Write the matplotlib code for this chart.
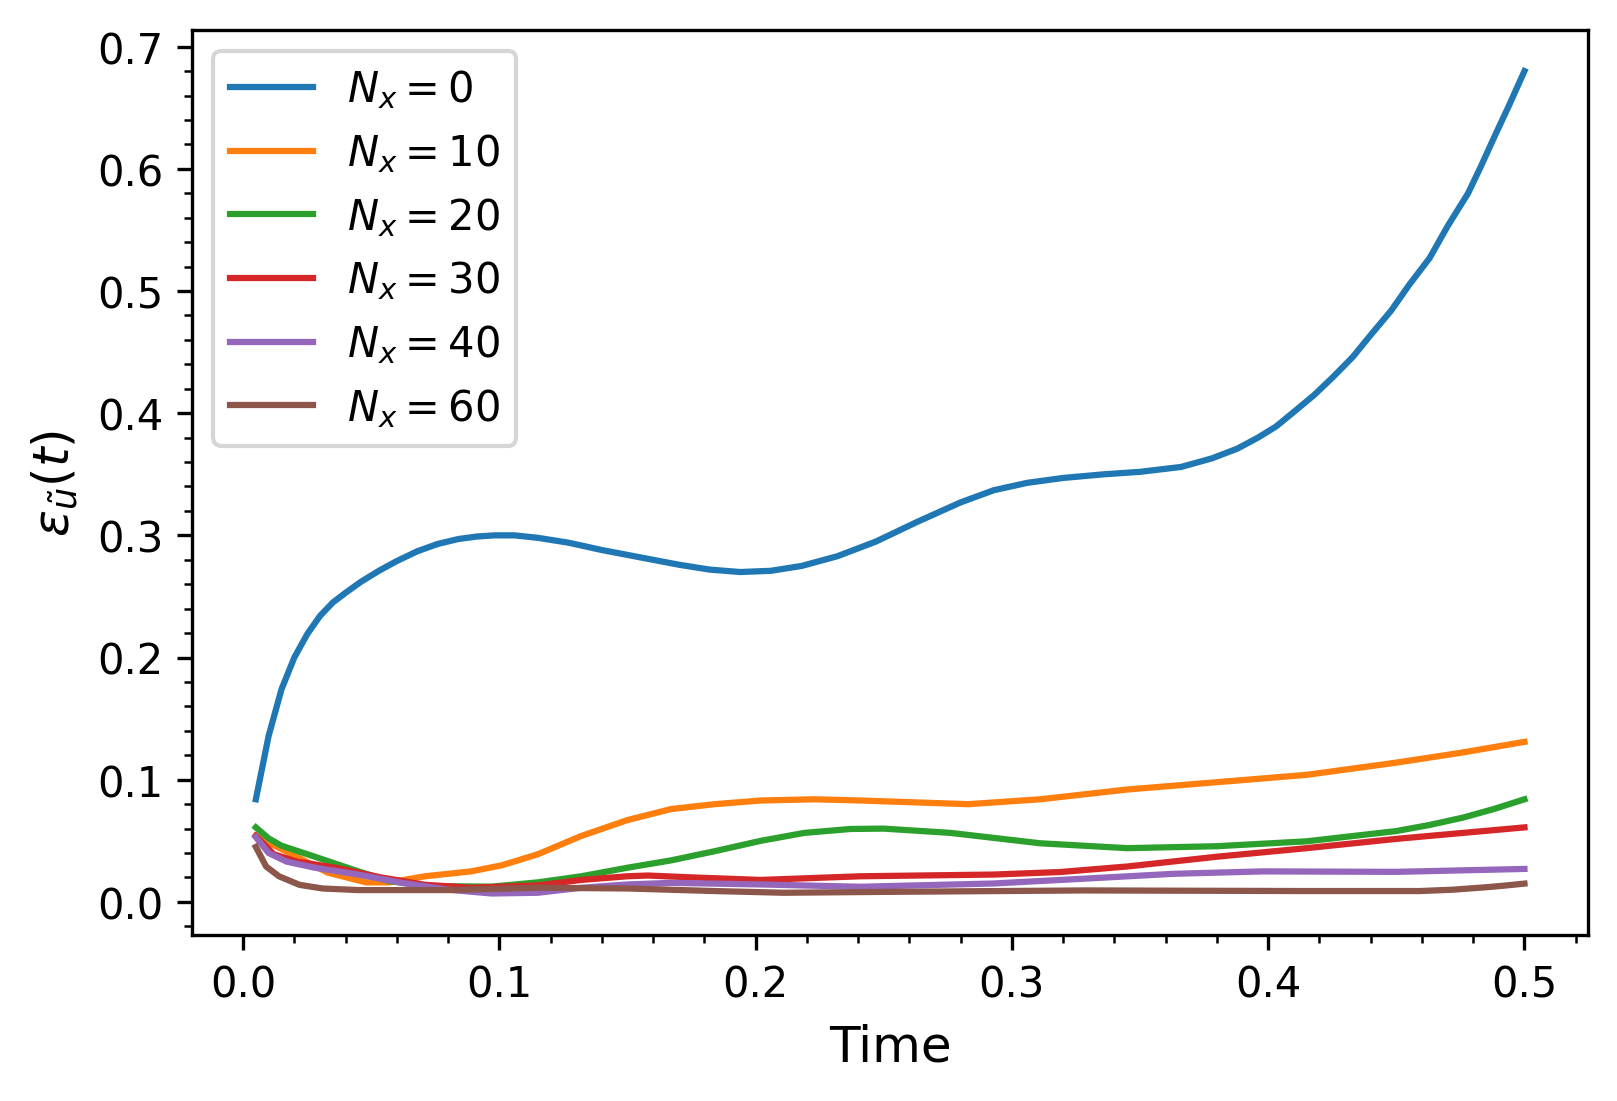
import numpy as np
import matplotlib
matplotlib.use("Agg")
import matplotlib.pyplot as plt

# values
t_nx0 = [0.005, 0.010, 0.015, 0.020, 0.025, 0.030, 0.035, 0.040, 0.046, 0.053,
         0.060, 0.068, 0.076, 0.084, 0.091, 0.098, 0.106, 0.115, 0.127, 0.140,
         0.155, 0.170, 0.182, 0.194, 0.206, 0.218, 0.232, 0.247, 0.263, 0.280,
         0.293, 0.306, 0.320, 0.336, 0.350, 0.366, 0.378, 0.388, 0.396, 0.403,
         0.410, 0.418, 0.425, 0.433, 0.440, 0.448, 0.455, 0.463, 0.470, 0.478,
         0.483, 0.488, 0.494, 0.500]
e_nx0 = [0.084, 0.136, 0.174, 0.200, 0.219, 0.234, 0.245, 0.253, 0.262, 0.271,
         0.279, 0.287, 0.293, 0.297, 0.299, 0.300, 0.300, 0.298, 0.294, 0.288,
         0.282, 0.276, 0.272, 0.270, 0.271, 0.275, 0.283, 0.295, 0.311, 0.327,
         0.337, 0.343, 0.347, 0.350, 0.352, 0.356, 0.363, 0.371, 0.380, 0.389,
         0.401, 0.415, 0.429, 0.446, 0.464, 0.484, 0.505, 0.527, 0.553, 0.580,
         0.602, 0.625, 0.652, 0.680]

t_nx10 = [0.005, 0.019, 0.033, 0.048, 0.057, 0.071, 0.089, 0.101, 0.115, 0.132,
          0.150, 0.167, 0.184, 0.202, 0.223, 0.241, 0.283, 0.311, 0.345, 0.380,
          0.415, 0.450, 0.475, 0.500]
e_nx10 = [0.054, 0.039, 0.024, 0.016, 0.016, 0.021, 0.025, 0.030, 0.039, 0.054,
          0.067, 0.076, 0.080, 0.083, 0.084, 0.083, 0.080, 0.084, 0.092, 0.098,
          0.104, 0.114, 0.122, 0.131]

t_nx20 = [0.005, 0.010, 0.015, 0.028, 0.045, 0.057, 0.073, 0.097, 0.115, 0.132,
          0.150, 0.167, 0.184, 0.202, 0.219, 0.237, 0.250, 0.276, 0.311, 0.345,
          0.380, 0.415, 0.450, 0.463, 0.476, 0.488, 0.500]
e_nx20 = [0.061, 0.052, 0.046, 0.037, 0.025, 0.017, 0.013, 0.0125, 0.016, 0.021,
          0.028, 0.034, 0.0415, 0.050, 0.0565, 0.0597, 0.060, 0.0565, 0.048, 0.044,
          0.0456, 0.0496, 0.058, 0.063, 0.069, 0.076, 0.084]

t_nx30 = [0.005, 0.012, 0.021, 0.036, 0.054, 0.071, 0.089, 0.115, 0.132, 0.150,
          0.158, 0.176, 0.202, 0.228, 0.241, 0.293, 0.319, 0.345, 0.380, 0.415,
          0.450, 0.500]
e_nx30 = [0.054, 0.039, 0.033, 0.028, 0.020, 0.014, 0.0116, 0.0135, 0.018, 0.021,
          0.0216, 0.020, 0.018, 0.020, 0.021, 0.0224, 0.0245, 0.029, 0.037, 0.044,
          0.0516, 0.061]

t_nx40 = [0.005, 0.010, 0.017, 0.028, 0.045, 0.062, 0.080, 0.097, 0.115, 0.132,
          0.150, 0.167, 0.202, 0.241, 0.293, 0.328, 0.363, 0.398, 0.450, 0.500]
e_nx40 = [0.053, 0.040, 0.033, 0.028, 0.0224, 0.0156, 0.010, 0.0069, 0.0075, 0.0116,
          0.0143, 0.0156, 0.0143, 0.0124, 0.0151, 0.019, 0.023, 0.025, 0.0246, 0.027]

t_nx60 = [0.005, 0.009, 0.014, 0.022, 0.031, 0.045, 0.080, 0.115, 0.150, 0.184,
          0.211, 0.249, 0.328, 0.415, 0.459, 0.472, 0.485, 0.493, 0.500]
e_nx60 = [0.045, 0.029, 0.021, 0.014, 0.011, 0.0097, 0.0097, 0.0116, 0.011, 0.0089,
          0.0075, 0.0082, 0.0094, 0.0089, 0.0089, 0.0100, 0.012, 0.0135, 0.015]

series = [
    (t_nx0, e_nx0, r'$N_x = 0$'),
    (t_nx10, e_nx10, r'$N_x = 10$'),
    (t_nx20, e_nx20, r'$N_x = 20$'),
    (t_nx30, e_nx30, r'$N_x = 30$'),
    (t_nx40, e_nx40, r'$N_x = 40$'),
    (t_nx60, e_nx60, r'$N_x = 60$'),
]

fig, ax = plt.subplots(figsize=(5.39, 3.673), dpi=300)
fig.subplots_adjust(left=0.119, right=0.982, top=0.972, bottom=0.151)

for t, e, lab in series:
    ax.plot(t, e, label=lab)

ax.set_xlabel('Time', fontsize=12)
ax.set_ylabel(r'$\varepsilon_{\tilde{u}}(t)$', fontsize=12)
ax.minorticks_on()
ax.legend(loc='upper left')

fig.savefig('out.png', dpi=300)
